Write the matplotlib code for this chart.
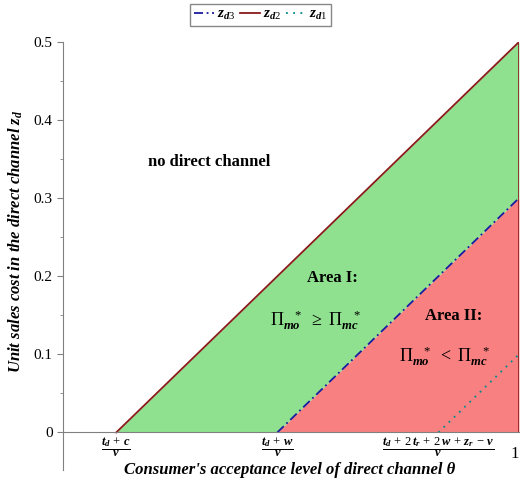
import numpy as np
import matplotlib
matplotlib.use('Agg')
import matplotlib.pyplot as plt

plt.rcParams['font.family'] = 'Liberation Serif'
plt.rcParams['mathtext.fontset'] = 'custom'
plt.rcParams['mathtext.rm'] = 'Liberation Serif'
plt.rcParams['mathtext.it'] = 'Liberation Serif:italic:bold'
plt.rcParams['mathtext.bf'] = 'Liberation Serif:bold'

# boundary lines (theta, z_d)
theta_d2 = [0.5, 1.0]
z_d2 = [0.0, 0.5]
theta_d3 = [0.7, 1.0]
z_d3 = [0.0, 0.3]
theta_d1 = [0.9, 1.0]
z_d1 = [0.0, 0.1]

xtick_pos = [0.5, 0.7, 0.9, 1.0]
xtick_labels = [r'$\dfrac{t_d\,+\,c}{v}$', r'$\dfrac{t_d\,+\,w}{v}$',
                r'$\dfrac{t_d\,+\,2\,t_r\,+\,2\,w\,+\,z_r\,-\,v}{v}$', '1']
yticks = [0, 0.1, 0.2, 0.3, 0.4, 0.5]

green = '#8FE08F'
red = '#F88080'
c_d2 = '#8B1A1A'
c_d3 = '#1A1AA0'
c_d1 = '#008B8B'

fig = plt.figure(figsize=(5.21, 4.83), dpi=100)
ax = fig.add_axes([0.121, 0.027, 0.875, 0.886])
ax.set_xlim(0.434, 1.0)
ax.set_ylim(-0.048, 0.5)

# green area between z_d2 and max(z_d3, 0)
th = np.linspace(theta_d2[0], theta_d2[1], 200)
top = np.interp(th, theta_d2, z_d2)
low = np.interp(th, theta_d3, z_d3, left=0.0)
ax.fill_between(th, low, top, color=green, lw=0)
# red area under z_d3
ax.fill_between(theta_d3, [0, 0], z_d3, color=red, lw=0)

ax.plot([1.0, 1.0], [0, 0.5], color=c_d2, lw=1.2)
l3, = ax.plot(theta_d3, z_d3, color=c_d3, lw=1.3, ls=(0, (5, 2, 1, 2)))
l2, = ax.plot(theta_d2, z_d2, color=c_d2, lw=1.3)
l1, = ax.plot(theta_d1, z_d1, color=c_d1, lw=1.3, ls=(0, (1, 3)))

ax.spines['right'].set_visible(False)
ax.spines['top'].set_visible(False)
ax.spines['bottom'].set_position(('data', 0))
for s in ['left', 'bottom']:
    ax.spines[s].set_color('#808080')
    ax.spines[s].set_linewidth(0.8)

ax.set_yticks(yticks)
ax.set_yticklabels(['0', '0.1', '0.2', '0.3', '0.4', '0.5'], fontsize=11)
ax.set_yticks(np.arange(0.05, 0.5, 0.1), minor=True)
ax.tick_params(axis='y', which='both', direction='out', color='#808080', length=4)
ax.tick_params(axis='y', which='minor', length=2.5)
ax.set_xticks(xtick_pos)
# push the plain "1" label down so it sits next to the fraction bars
ax.set_xticklabels(xtick_labels[:-1] + ['\n' + xtick_labels[-1]], fontsize=9)
ax.tick_params(axis='x', length=0, pad=2)
lab1 = ax.get_xticklabels()[-1]
lab1.set_fontsize(12)
lab1.set_horizontalalignment('right')
lab1.set_linespacing(0.55)

fig.text(0.555, 0.027, "Consumer's acceptance level of direct channel θ",
         ha='center', va='center', fontsize=12, fontweight='bold', style='italic')
fig.text(0.03, 0.5, r"Unit sales cost in the direct channel $z_d$", rotation=90,
         ha='center', va='center', fontsize=12, fontweight='bold', style='italic')

ax.text(0.615, 0.346, 'no direct channel', ha='center', va='center',
        fontsize=12, fontweight='bold')
ax.text(0.768, 0.198, 'Area I:', ha='center', va='center', fontsize=12, fontweight='bold')
ax.text(0.747, 0.144, r'$\mathrm{\Pi}_{mo}^{\quad *}\ \geq\ \mathrm{\Pi}_{mc}^{\quad *}$',
        ha='center', va='center', fontsize=13)
ax.text(0.919, 0.149, 'Area II:', ha='center', va='center', fontsize=12, fontweight='bold')
ax.text(0.908, 0.098, r'$\mathrm{\Pi}_{mo}^{\quad *}\ <\ \mathrm{\Pi}_{mc}^{\quad *}$',
        ha='center', va='center', fontsize=13)

leg = fig.legend([l3, l2, l1], [r'$z_{d3}$', r'$z_{d2}$', r'$z_{d1}$'],
                 loc='center', bbox_to_anchor=(0.5, 0.969), ncol=3, fontsize=11,
                 handlelength=1.3, handletextpad=0.2, columnspacing=0.3,
                 fancybox=False, borderpad=0.25, borderaxespad=0, framealpha=1)
leg.get_frame().set_edgecolor('#888888')

fig.savefig('out.png', dpi=100)
